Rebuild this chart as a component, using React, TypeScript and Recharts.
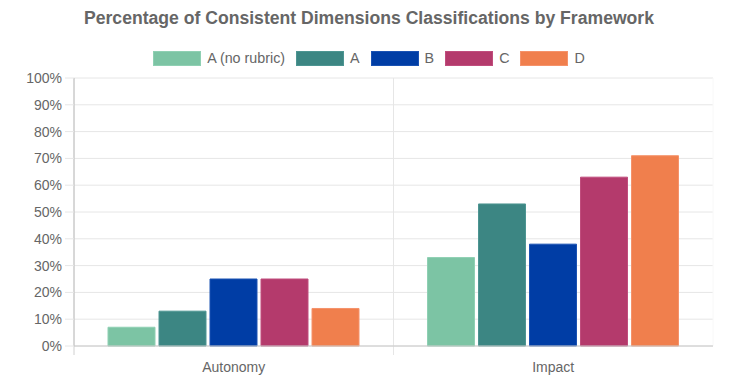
import React from 'react';
import { BarChart, Bar, XAxis, YAxis, CartesianGrid } from 'recharts';

const categories = ['Autonomy', 'Impact'];
const seriesNames = ['A (no rubric)', 'A', 'B', 'C', 'D'];
const seriesKeys = ['aNoRubric', 'a', 'b', 'c', 'd'];
const aNoRubricValues = [7, 33];
const aValues = [13, 53];
const bValues = [25, 38];
const cValues = [25, 63];
const dValues = [14, 71];
const yTicks = [0, 10, 20, 30, 40, 50, 60, 70, 80, 90, 100];

const fills = ['#7CC4A4', '#3C8683', '#003DA5', '#B43A6C', '#F07F4D'];
const strokes = ['#8fd0b3', '#4d9592', '#1a52b3', '#c04d7d', '#f5926a'];

const allValues = [aNoRubricValues, aValues, bValues, cValues, dValues];
const data = categories.map((cat, i) => {
  const row: Record<string, any> = { name: cat };
  seriesKeys.forEach((k, j) => {
    row[k] = allValues[j][i];
  });
  return row;
});

const FONT = '"Liberation Sans", Arial, Helvetica, sans-serif';
const GRID = '#e6e6e6';

const verticalLine = (props: any) => {
  const { x1, y1, x2, y2, key, index } = props;
  const isRight = index === 2;
  return (
    <line
      key={key}
      x1={x1}
      y1={y1}
      x2={x2}
      y2={isRight ? y2 : y2 + 9}
      stroke={isRight ? '#f8f8f8' : index === 0 ? '#d0d0d0' : GRID}
      strokeWidth={1}
    />
  );
};

export default function App() {
  return (
    <div style={{ position: 'absolute', left: 0, top: 0, width: 738, height: 392, background: '#fff', fontFamily: FONT }}>
      <div
        style={{
          position: 'absolute',
          left: 0,
          top: 7,
          width: 738,
          textAlign: 'center',
          fontSize: 17.6,
          fontWeight: 'bold',
          color: '#666',
          lineHeight: '22px',
        }}
      >
        Percentage of Consistent Dimensions Classifications by Framework
      </div>
      <div
        style={{
          position: 'absolute',
          left: 0,
          top: 51,
          width: 738,
          display: 'flex',
          justifyContent: 'center',
          alignItems: 'center',
          fontSize: 14.3,
          color: '#666',
          lineHeight: '15px',
        }}
      >
        {seriesNames.map((n, i) => (
          <div key={n} style={{ display: 'flex', alignItems: 'center', marginRight: i < seriesNames.length - 1 ? 11 : 0 }}>
            <div
              style={{
                width: 46,
                height: 13,
                background: fills[i],
                border: `1px solid ${strokes[i]}`,
                marginRight: 6,
              }}
            />
            <span>{n}</span>
          </div>
        ))}
      </div>
      <div style={{ position: 'absolute', left: 0, top: 0 }}>
        <BarChart
          width={738}
          height={392}
          data={data}
          margin={{ top: 78, right: 25, bottom: 16, left: 24 }}
          barGap={4}
          barSize={47}
        >
          <CartesianGrid
            stroke={GRID}
            horizontal={true}
            vertical={verticalLine}
            verticalCoordinatesGenerator={({ offset }: any) => [
              offset.left,
              offset.left + offset.width / 2,
              offset.left + offset.width,
            ]}
          />
          <XAxis
            dataKey="name"
            height={30}
            tickLine={false}
            axisLine={{ stroke: '#c8c8c8' }}
            tick={{ fill: '#666', fontSize: 14, fontFamily: FONT }}
            tickMargin={10}
          />
          <YAxis
            width={50}
            domain={[0, 100]}
            ticks={yTicks}
            interval={0}
            tickFormatter={(v: number) => `${v}%`}
            tickLine={{ stroke: GRID }}
            tickSize={9}
            tickMargin={3}
            axisLine={{ stroke: '#c8c8c8' }}
            tick={{ fill: '#666', fontSize: 14, fontFamily: FONT }}
          />
          {seriesKeys.map((k, i) => (
            <Bar
              key={k}
              dataKey={k}
              name={seriesNames[i]}
              fill={fills[i]}
              stroke={strokes[i]}
              strokeWidth={1}
              isAnimationActive={false}
            />
          ))}
        </BarChart>
      </div>
    </div>
  );
}
